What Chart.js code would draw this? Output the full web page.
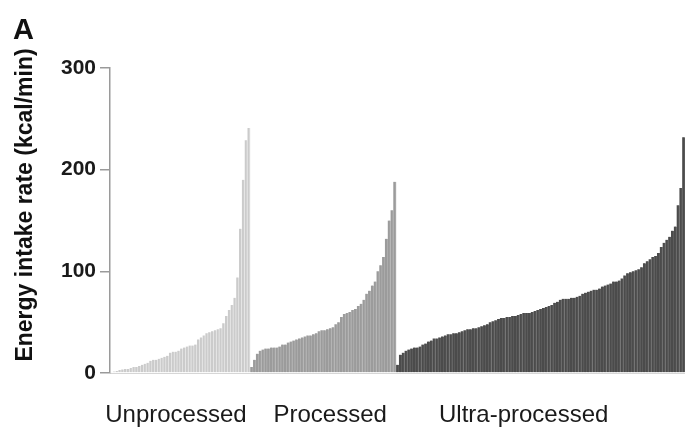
<!DOCTYPE html>
<html>
<head>
<meta charset="utf-8">
<script src="https://cdn.jsdelivr.net/npm/chart.js@4.4.1/dist/chart.umd.min.js"></script>
<style>
  html, body { margin: 0; padding: 0; background: #fff; }
  #wrap { width: 685px; height: 427px; }
</style>
</head>
<body>
<div id="wrap"><canvas id="chart" width="685" height="427"></canvas></div>
<script>
// groups of foods, each sorted by energy intake rate (kcal/min)
var groups = ['Unprocessed', 'Processed', 'Ultra-processed'];
var unprocessed = [1, 1.5, 2, 3, 3.5, 4, 4, 5, 6, 6, 7, 8, 9, 10, 12, 13, 13, 14, 15, 16,
  17, 20, 21, 21, 22, 24, 25, 26, 27, 27, 28, 33, 35, 37, 39, 40, 41, 42, 43, 44,
  49, 56, 62, 67, 74, 94, 142, 190, 229, 241];
var processed = [6, 13, 19, 22, 23, 24, 24, 25, 25, 25, 26, 28, 28, 30, 31, 32, 33, 34, 35, 36,
  37, 37, 38, 39, 41, 42, 42, 43, 44, 45, 48, 50, 55, 58, 59, 60, 62, 63, 66, 68,
  72, 78, 81, 86, 90, 100, 106, 114, 132, 150, 160, 188];
var ultraProcessed = [8, 18, 20, 22, 23, 24, 25, 25, 26, 28, 29, 31, 32, 34, 34, 35, 36, 37, 38, 38,
  39, 39, 40, 41, 42, 43, 43, 44, 44, 45, 46, 47, 48, 50, 51, 52, 53, 54, 54, 55,
  55, 56, 56, 57, 58, 59, 59, 59, 60, 61, 62, 63, 64, 65, 66, 67, 69, 70, 72, 73,
  73, 73, 74, 74, 75, 76, 78, 79, 80, 81, 82, 82, 83, 85, 86, 87, 88, 90, 90, 91,
  93, 96, 98, 99, 100, 101, 102, 104, 108, 110, 112, 114, 115, 118, 124, 128, 131, 134, 140, 144,
  165, 182, 232];
var yTicks = [0, 100, 200, 300];

// look
var fillColors = ['#cbcbcb', '#9b9b9b', '#4b4b4b'];
var stripeColors = ['#ececec', '#b3b3b3', '#626262'];
var labelSlot = [23, 28, 45]; // which bar in each group carries the group name

var values = [], labels = [], bg = [], bd = [], tickText = {};
[unprocessed, processed, ultraProcessed].forEach(function (arr, g) {
  tickText[values.length + labelSlot[g]] = groups[g];
  arr.forEach(function (v) {
    values.push(v);
    labels.push(groups[g] + ' ' + (labels.length + 1));
    bg.push(fillColors[g]);
    bd.push(stripeColors[g]);
  });
});

var extraText = {
  id: 'extraText',
  afterDraw: function (chart) {
    var c = chart.ctx;
    c.save();
    c.fillStyle = '#111';
    c.font = 'bold 29px "Liberation Sans", Arial, sans-serif';
    c.textBaseline = 'alphabetic';
    c.textAlign = 'left';
    c.fillText('A', 13, 39);
    c.translate(26, 205);
    c.rotate(-Math.PI / 2);
    c.font = 'bold 23px "Liberation Sans", Arial, sans-serif';
    c.textAlign = 'center';
    c.textBaseline = 'middle';
    c.fillText('Energy intake rate (kcal/min)', 0, 0);
    c.restore();
  }
};

var ctx = document.getElementById('chart').getContext('2d');
var myChart = new Chart(ctx, {
  type: 'bar',
  data: {
    labels: labels,
    datasets: [{
      data: values,
      backgroundColor: bg,
      borderColor: bd,
      borderWidth: { left: 0, right: 1, top: 0, bottom: 0 },
      barPercentage: 1,
      categoryPercentage: 1
    }]
  },
  options: {
    responsive: false,
    devicePixelRatio: 1,
    animation: false,
    layout: { padding: { top: 68, right: 0, left: 0, bottom: 0 } },
    plugins: { legend: { display: false }, tooltip: { enabled: false } },
    scales: {
      x: {
        grid: { drawOnChartArea: false, drawTicks: false },
        border: { color: '#d6d6d6', width: 1 },
        ticks: {
          autoSkip: false,
          maxRotation: 0,
          minRotation: 0,
          padding: 28,
          color: '#1a1a1a',
          font: { family: '"Liberation Sans", Arial, sans-serif', size: 24 },
          callback: function (v, i) { return tickText[i] || ''; }
        },
        afterFit: function (s) { s.height = 54; s.paddingLeft = 0; s.paddingRight = 0; }
      },
      y: {
        min: 0,
        max: 300,
        afterBuildTicks: function (s) { s.ticks = yTicks.map(function (v) { return { value: v }; }); },
        grid: { drawOnChartArea: false, drawTicks: true, tickLength: 10, color: '#9a9a9a', lineWidth: 1.5 },
        border: { color: '#9a9a9a', width: 1.5 },
        ticks: {
          padding: 4,
          color: '#1a1a1a',
          font: { family: '"Liberation Sans", Arial, sans-serif', size: 21, weight: 'bold' }
        },
        afterFit: function (s) { s.width = 110; }
      }
    }
  },
  plugins: [extraText]
});
</script>
</body>
</html>
